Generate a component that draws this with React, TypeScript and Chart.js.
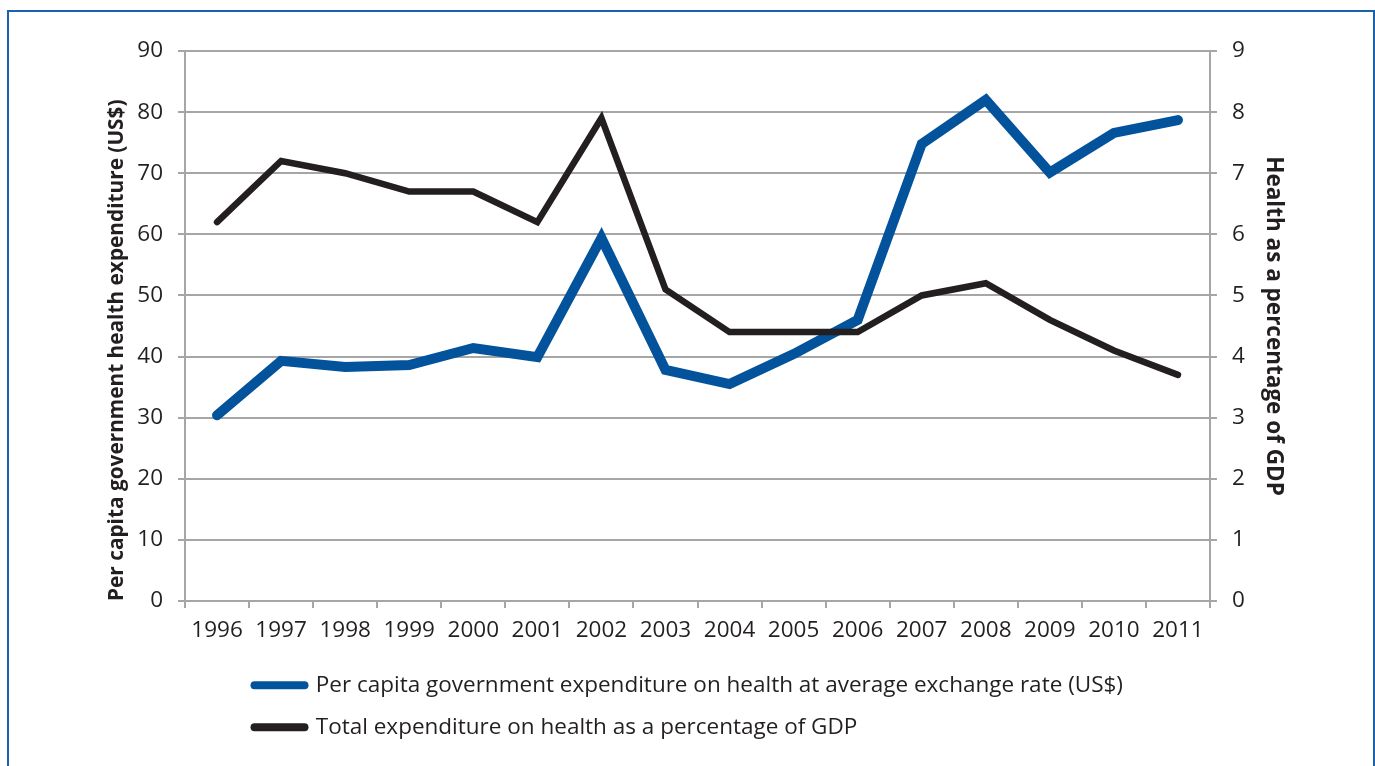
import React, { useEffect, useRef } from "react";
import { Chart, registerables } from "chart.js";

Chart.register(...registerables);

const years = ["1996","1997","1998","1999","2000","2001","2002","2003","2004","2005","2006","2007","2008","2009","2010","2011"];
const perCapitaGov = [30.4, 39.3, 38.3, 38.6, 41.4, 39.9, 59.4, 37.8, 35.5, 40.4, 46.0, 74.8, 82.0, 70.1, 76.6, 78.7];
const totalPctGdp = [6.2, 7.2, 7.0, 6.7, 6.7, 6.2, 7.9, 5.1, 4.4, 4.4, 4.4, 5.0, 5.2, 4.6, 4.1, 3.7];
const seriesNames = [
  "Per capita government expenditure on health at average exchange rate (US$)",
  "Total expenditure on health as a percentage of GDP",
];
const leftTitle = "Per capita government health expenditure (US$)";
const rightTitle = "Health as a percentage of GDP";

const BLUE = "#02539c";
const BLACK = "#231f20";
const GRID = "#a6a6a6";
const TEXT = "#231f20";
const FONT = "'Open Sans', 'Noto Sans', sans-serif";
const FS = 22.5;

const legendPlacer = {
  id: "legendPlacer",
  afterLayout(chart: any) {
    const lg = chart.legend;
    if (!lg || !lg.lineWidths) return;
    const pad = lg.options.labels.padding;
    const maxW = Math.max(...lg.lineWidths);
    const left = (chart.width - maxW) / 2 - pad + 11;
    const w = lg.right - lg.left;
    lg.left = left;
    lg.right = left + w;
  },
};

export default function App() {
  const ref = useRef<HTMLCanvasElement | null>(null);
  useEffect(() => {
    if (!ref.current) return;
    const chart = new Chart(ref.current, {
      type: "line",
      data: {
        labels: years,
        datasets: [
          {
            label: seriesNames[0],
            data: perCapitaGov,
            yAxisID: "y",
            borderColor: BLUE,
            backgroundColor: BLUE,
            borderWidth: 10,
            borderCapStyle: "round",
            borderJoinStyle: "miter",
            pointRadius: 0,
            tension: 0,
            order: 1,
          },
          {
            label: seriesNames[1],
            data: totalPctGdp,
            yAxisID: "y1",
            borderColor: BLACK,
            backgroundColor: BLACK,
            borderWidth: 6.5,
            borderCapStyle: "round",
            borderJoinStyle: "miter",
            pointRadius: 0,
            tension: 0,
            order: 0,
          },
        ],
      },
      options: {
        animation: false,
        responsive: false,
        maintainAspectRatio: false,
        layout: { padding: { top: 51, left: 0, right: 85, bottom: 17.5 } },
        plugins: {
          tooltip: { enabled: false },
          legend: {
            position: "bottom",
            align: "start",
            labels: {
              color: TEXT,
              font: { family: FONT, size: FS },
              padding: 19.5,
              usePointStyle: true,
              pointStyleWidth: 50,
              generateLabels: (c: any) =>
                c.data.datasets.map((ds: any, i: number) => ({
                  text: ds.label,
                  fillStyle: ds.borderColor,
                  strokeStyle: ds.borderColor,
                  lineWidth: 8,
                  lineCap: "round",
                  pointStyle: "line",
                  hidden: false,
                  datasetIndex: i,
                  fontColor: TEXT,
                })),
            },
          },
        },
        scales: {
          x: {
            type: "category",
            offset: true,
            grid: {
              offset: true,
              drawOnChartArea: false,
              drawTicks: true,
              tickLength: 7,
              color: GRID,
              lineWidth: 2,
            },
            border: { color: GRID, width: 2 },
            ticks: {
              color: TEXT,
              font: { family: FONT, size: FS },
              padding: 9,
              maxRotation: 0,
              autoSkip: false,
            },
            afterFit: (s: any) => {
              s.height = 53.5;
            },
          },
          y: {
            position: "left",
            min: 0,
            max: 90,
            ticks: {
              stepSize: 10,
              color: TEXT,
              font: { family: FONT, size: FS },
              padding: 15,
            },
            grid: { color: GRID, lineWidth: 2, tickLength: 7, drawTicks: true },
            border: { color: GRID, width: 2 },
            title: {
              display: true,
              text: leftTitle,
              align: "start",
              color: TEXT,
              font: { family: FONT, size: 20.8, weight: "bold" },
              padding: { top: 104.5, bottom: 0 },
            },
            afterFit: (s: any) => {
              s.width = 185;
            },
          },
          y1: {
            position: "right",
            min: 0,
            max: 9,
            ticks: {
              stepSize: 1,
              color: TEXT,
              font: { family: FONT, size: FS },
              padding: 15,
            },
            grid: { drawOnChartArea: false, color: GRID, lineWidth: 2, tickLength: 7, drawTicks: true },
            border: { color: GRID, width: 2 },
            title: {
              display: true,
              text: rightTitle,
              color: TEXT,
              font: { family: FONT, size: 22.5, weight: "bold" },
              padding: { top: 3, bottom: 0 },
            },
            afterFit: (s: any) => {
              s.width = 80;
            },
          },
        },
      },
      plugins: [legendPlacer],
    });
    return () => chart.destroy();
  }, []);

  return (
    <>
      <div
        style={{
          position: "fixed",
          left: 7,
          top: 10,
          width: 1368,
          height: 800,
          borderLeft: "2px solid #1a62b0",
          borderRight: "2px solid #1a62b0",
          borderTop: "2px solid #1a62b0",
          boxSizing: "border-box",
          pointerEvents: "none",
        }}
      />
      <div style={{ position: "fixed", left: 0, top: 0, width: 1375, height: 766 }}>
        <canvas ref={ref} width={1375} height={766} style={{ width: 1375, height: 766, display: "block" }} />
      </div>
    </>
  );
}
